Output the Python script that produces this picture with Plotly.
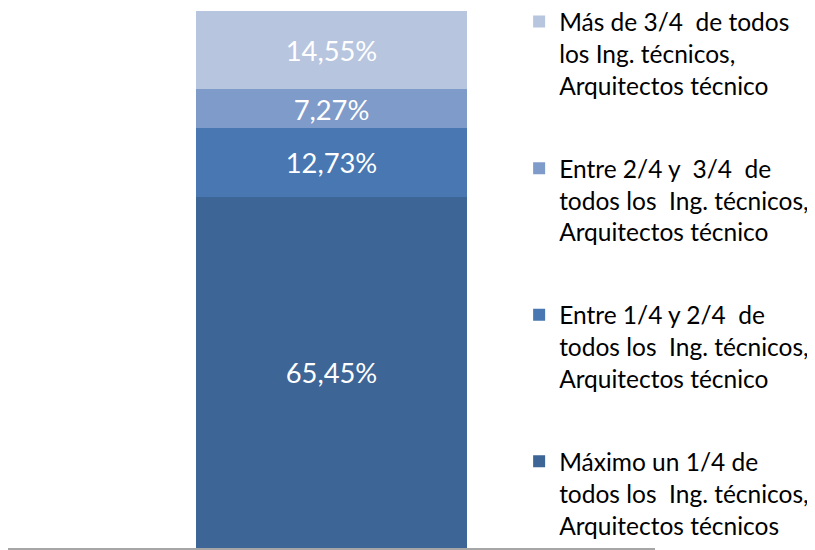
import plotly.graph_objects as go

categories = [""]
series_names = [
    "Máximo un 1/4 de<br>todos los  Ing. técnicos,<br>Arquitectos técnicos",
    "Entre 1/4 y 2/4  de<br>todos los  Ing. técnicos,<br>Arquitectos técnico",
    "Entre 2/4 y  3/4  de<br>todos los  Ing. técnicos,<br>Arquitectos técnico",
    "Más de 3/4  de todos<br>los Ing. técnicos,<br>Arquitectos técnico",
]
series_values = [65.45, 12.73, 7.27, 14.55]
colors = ["#3D6596", "#4877B1", "#7F9BC9", "#B8C5DF"]

fig = go.Figure()
n = len(series_names)
for i, (name, val, col) in enumerate(zip(series_names, series_values, colors)):
    fig.add_trace(go.Bar(
        x=categories, y=[val], name=name,
        marker=dict(color=col, line=dict(width=0)),
        texttemplate="%{y:.2f}%", textposition="inside",
        insidetextanchor="middle",
        textfont=dict(color="white", size=29, family="Lato"),
        legendgroup=f"g{i}", legendrank=n - i,
    ))

fig.update_layout(
    barmode="stack",
    bargap=0.581,
    separators=",.",
    width=807, height=542,
    margin=dict(l=0, r=160, t=3, b=2, autoexpand=False),
    paper_bgcolor="white", plot_bgcolor="white",
    font=dict(family="Lato", size=24.5, color="black"),
    showlegend=True,
    legend=dict(
        x=0.790, xanchor="left", y=1.022, yanchor="top",
        traceorder="grouped", valign="top",
        tracegroupgap=48, maxheight=1.0,
        font=dict(family="Lato", size=24.5, color="black"),
        bgcolor="rgba(0,0,0,0)",
    ),
    xaxis=dict(showline=True, linecolor="#A6A6A6", linewidth=2,
               showticklabels=False, ticks="", showgrid=False, zeroline=False,
               fixedrange=True),
    yaxis=dict(range=[0, 100], visible=False, showgrid=False, zeroline=False),
    uniformtext=dict(minsize=10, mode="show"),
)

fig.write_html("out.html")
